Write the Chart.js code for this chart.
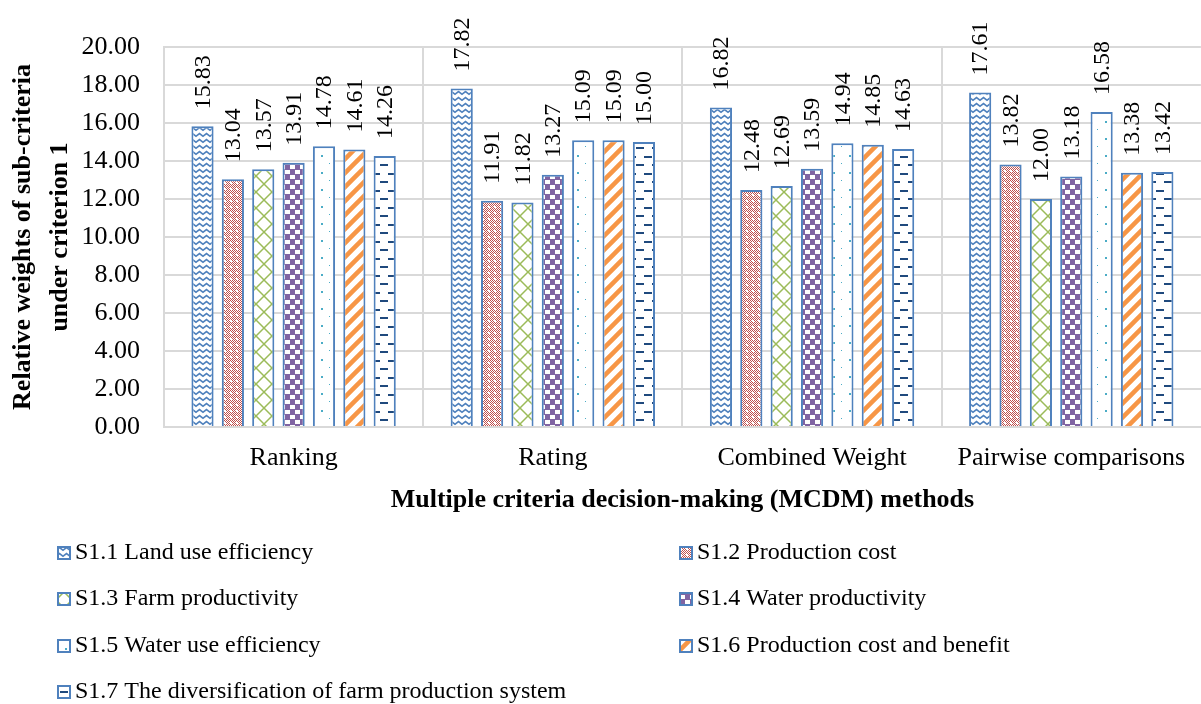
<!DOCTYPE html>
<html>
<head>
<meta charset="utf-8">
<script src="https://cdn.jsdelivr.net/npm/chart.js@4.4.1/dist/chart.umd.min.js"></script>
<style>
  html, body { margin: 0; padding: 0; background: #fff; }
  canvas { display: block; }
</style>
</head>
<body>
<canvas id="weightChart" width="1201" height="704" style="width:1201px;height:704px"></canvas>
<script>
// dados do gráfico
const methods = ['Ranking', 'Rating', 'Combined Weight', 'Pairwise comparisons'];
const seriesNames = [
  'S1.1 Land use efficiency',
  'S1.2 Production cost',
  'S1.3 Farm productivity',
  'S1.4 Water productivity',
  'S1.5 Water use efficiency',
  'S1.6 Production cost and benefit',
  'S1.7 The diversification of farm production system'
];
const s11 = [15.83, 17.82, 16.82, 17.61];
const s12 = [13.04, 11.91, 12.48, 13.82];
const s13 = [13.57, 11.82, 12.69, 12.00];
const s14 = [13.91, 13.27, 13.59, 13.18];
const s15 = [14.78, 15.09, 14.94, 16.58];
const s16 = [14.61, 15.09, 14.85, 13.38];
const s17 = [14.26, 15.00, 14.63, 13.42];
const yTicks = [0, 2, 4, 6, 8, 10, 12, 14, 16, 18, 20];

const FONT = '"Times New Roman", "Liberation Serif", serif';
const BORDER = '#4F81BD';
const GRID = '#d9d9d9';

// cria um padrão a partir de um pequeno canvas
function makePattern(w, h, draw) {
  const c = document.createElement('canvas');
  c.width = w; c.height = h;
  const g = c.getContext('2d');
  g.fillStyle = '#fff';
  g.fillRect(0, 0, w, h);
  draw(g, w, h);
  return document.createElement('canvas').getContext('2d').createPattern(c, 'repeat');
}

const patterns = [
  // zigue-zague azul
  makePattern(7, 6, g => {
    g.strokeStyle = '#4F81BD'; g.lineWidth = 1.6;
    g.beginPath(); g.moveTo(-0.5, 4.5); g.lineTo(3.5, 1.5); g.lineTo(7.5, 4.5); g.stroke();
  }),
  // xadrez miúdo vermelho com pontos brancos
  makePattern(6, 6, g => {
    g.fillStyle = '#C0504D';
    for (let x = 0; x < 6; x++) {
      for (let y = 0; y < 6; y++) {
        if ((x + y) % 2 === 0) g.fillRect(x, y, 1, 1);
      }
    }
    g.fillStyle = '#fff';
    g.fillRect(2, 2, 2, 2);
  }),
  // treliça verde
  makePattern(16, 16, g => {
    g.strokeStyle = '#9BBB59'; g.lineWidth = 1.5;
    g.beginPath(); g.moveTo(0, 0); g.lineTo(16, 16); g.moveTo(16, 0); g.lineTo(0, 16); g.stroke();
  }),
  // xadrez grande roxo
  makePattern(10, 10, g => {
    g.fillStyle = '#8064A2'; g.fillRect(0, 0, 10, 10);
    g.fillStyle = '#fff';
    g.fillRect(0, 5, 5, 4); g.fillRect(5, 0, 5, 4);
  }),
  // pontos azul-claro
  makePattern(16, 17, g => {
    g.fillStyle = '#4BACC6';
    g.fillRect(1, 2, 2, 2); g.fillRect(9, 10, 1, 1);
  }),
  // listras diagonais laranja
  makePattern(14, 14, g => {
    g.strokeStyle = '#F79646'; g.lineWidth = 4.5;
    g.beginPath();
    g.moveTo(-2, 16); g.lineTo(16, -2);
    g.moveTo(-9, 9); g.lineTo(9, -9);
    g.moveTo(5, 23); g.lineTo(23, 5);
    g.stroke();
  }),
  // traços azul-escuro
  makePattern(16, 17, g => {
    g.fillStyle = '#1F497D';
    g.fillRect(4, 3, 8, 2);
    g.fillRect(12, 11, 4, 2); g.fillRect(0, 11, 4, 2);
  })
];

const seriesData = [s11, s12, s13, s14, s15, s16, s17];

// rótulos de valor na vertical acima das barras
const valueLabels = {
  id: 'valueLabels',
  afterDatasetsDraw(chart) {
    const ctx = chart.ctx;
    ctx.save();
    ctx.font = '24px ' + FONT;
    ctx.fillStyle = '#000';
    ctx.textAlign = 'left';
    ctx.textBaseline = 'middle';
    chart.data.datasets.forEach((ds, i) => {
      chart.getDatasetMeta(i).data.forEach((bar, j) => {
        ctx.save();
        ctx.translate(bar.x + 1, bar.y - 17);
        ctx.rotate(-Math.PI / 2);
        ctx.fillText(ds.data[j].toFixed(2), 0, 0);
        ctx.restore();
      });
    });
    ctx.restore();
  }
};

// legenda em duas colunas embaixo
const bottomLegend = {
  id: 'bottomLegend',
  afterDraw(chart) {
    const ctx = chart.ctx;
    const colX = [57, 679];
    const rowY = [553, 599, 646, 692];
    ctx.save();
    ctx.font = '24px ' + FONT;
    ctx.textBaseline = 'middle';
    ctx.textAlign = 'left';
    chart.data.datasets.forEach((ds, i) => {
      const x = colX[i % 2];
      const y = rowY[Math.floor(i / 2)];
      ctx.fillStyle = ds.backgroundColor;
      ctx.fillRect(x, y - 7, 14, 14);
      ctx.strokeStyle = BORDER;
      ctx.lineWidth = 2;
      ctx.strokeRect(x + 1, y - 6, 12, 12);
      ctx.fillStyle = '#000';
      ctx.fillText(ds.label, x + 18, y);
    });
    ctx.restore();
  }
};

const ctx = document.getElementById('weightChart').getContext('2d');

const weightChart = new Chart(ctx, {
  type: 'bar',
  data: {
    labels: methods,
    datasets: seriesNames.map((name, i) => ({
      label: name,
      data: seriesData[i],
      backgroundColor: patterns[i],
      borderColor: BORDER,
      borderWidth: 2,
      categoryPercentage: 0.82,
      barPercentage: 0.73
    }))
  },
  options: {
    responsive: false,
    animation: false,
    layout: { padding: { top: 47, bottom: 187, left: 0, right: 0 } },
    plugins: {
      legend: { display: false },
      tooltip: { enabled: false }
    },
    scales: {
      x: {
        // sem a linha da borda direita
        grid: {
          color: c => (c.tick ? GRID : 'rgba(0,0,0,0)'),
          lineWidth: 2,
          drawTicks: false,
          offset: true
        },
        border: { color: GRID, width: 2 },
        ticks: { color: '#000', padding: 16, font: { family: FONT, size: 26 } },
        title: {
          display: true,
          text: 'Multiple criteria decision-making (MCDM) methods',
          color: '#000',
          font: { family: FONT, size: 26, weight: 'bold', lineHeight: 1.2 },
          padding: { top: 0, bottom: 1 }
        },
        afterFit: scale => { scale.height = 90; }
      },
      y: {
        min: 0,
        max: 20,
        afterBuildTicks: scale => { scale.ticks = yTicks.map(v => ({ value: v })); },
        grid: { color: GRID, lineWidth: 2, drawTicks: false },
        border: { color: GRID, width: 2 },
        ticks: {
          color: '#000',
          padding: 24,
          font: { family: FONT, size: 26 },
          callback: v => Number(v).toFixed(2)
        },
        title: {
          display: true,
          text: ['Relative weights of sub-criteria', 'under criterion 1'],
          color: '#000',
          font: { family: FONT, size: 26, weight: 'bold', lineHeight: 1.42 },
          padding: { top: 5, bottom: 0 }
        },
        afterFit: scale => { scale.width = 164; }
      }
    }
  },
  plugins: [valueLabels, bottomLegend]
});
</script>
</body>
</html>
